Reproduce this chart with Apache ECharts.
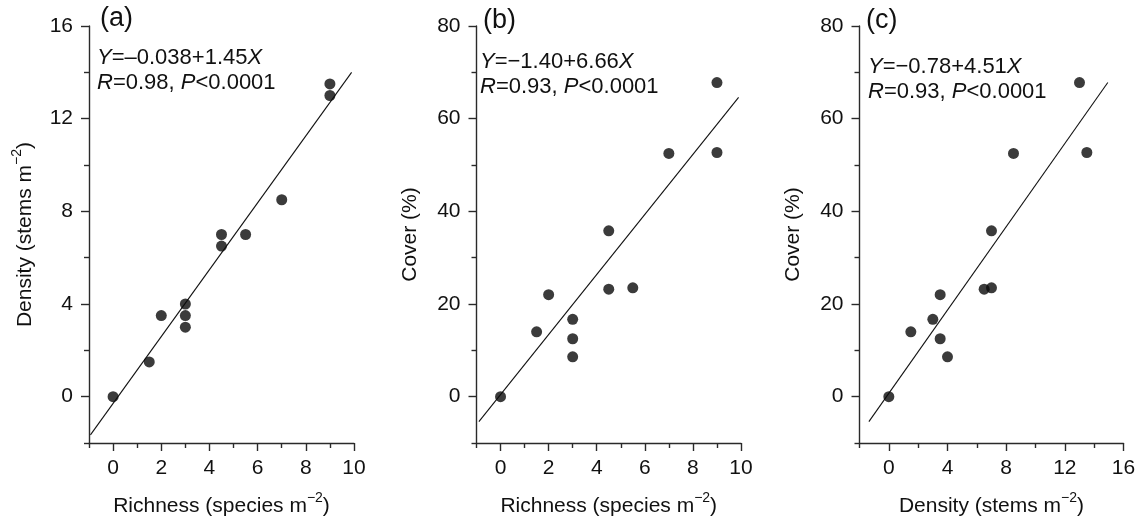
<!DOCTYPE html>
<html><head><meta charset="utf-8">
<script src="https://cdn.jsdelivr.net/npm/echarts@6/dist/echarts.min.js"></script>
<style>html,body{margin:0;padding:0;background:#fff}#c{width:1140px;height:517px}</style>
</head><body><div id="c"></div>
<script>
// ---- data ----
const richness = [0, 1.5, 2, 3, 3, 3, 4.5, 4.5, 5.5, 7, 9, 9];
const densityA = [0, 1.5, 3.5, 4, 3.5, 3, 7, 6.5, 7, 8.5, 13.5, 13];
const coverB   = [0, 14, 22, 16.7, 12.5, 8.6, 35.8, 23.2, 23.5, 52.5, 67.8, 52.7];
const densityC = [0, 1.5, 3.5, 3, 3.5, 4, 7, 6.5, 7, 8.5, 13, 13.5];
const coverC   = [0, 14, 22, 16.7, 12.5, 8.6, 35.8, 23.2, 23.5, 52.5, 67.8, 52.7];
const fitA = [[-0.94, -1.65], [9.9, 14.0]];
const fitB = [[-0.9, -5.4], [9.9, 64.6]];
const fitC = [[-1.36, -5.4], [14.93, 67.8]];
const richTicks = [0, 2, 4, 6, 8, 10];
const richMinor = [-1, 1, 3, 5, 7, 9];
const densTicksY = [0, 4, 8, 12, 16];
const densMinorY = [-2, 2, 6, 10, 14];
const densTicksX = [0, 4, 8, 12, 16];
const densMinorX = [-2, 2, 6, 10, 14];
const coverTicks = [0, 20, 40, 60, 80];
const coverMinor = [-10, 10, 30, 50, 70];

const FONT = '"Liberation Sans", Arial, Helvetica, sans-serif';
const TXT = '#111';
const AX = '#2a2a2a';
const FS = 21;
const EFS = 22;

const nameRich = {
  b: {fontSize: FS, fontFamily: FONT, color: TXT, lineHeight: 26, verticalAlign: 'bottom'},
  s: {fontSize: 14, fontFamily: FONT, color: TXT, lineHeight: 26, verticalAlign: 'top'}
};

function xMain(gi, min, max, ticks, name, gap) {
  return {gridIndex: gi, type: 'value', min, max, position: 'bottom',
    axisLine: {show: true, onZero: false, lineStyle: {color: AX, width: 1.4}},
    axisTick: {show: true, length: 8, customValues: ticks, lineStyle: {color: AX, width: 1.4}},
    axisLabel: {customValues: ticks, margin: 15, fontSize: FS, color: TXT, fontFamily: FONT},
    splitLine: {show: false},
    name, nameLocation: 'middle', nameGap: gap, nameTextStyle: {rich: nameRich}};
}
function xMinor(gi, min, max, ticks) {
  return {gridIndex: gi, type: 'value', min, max, position: 'bottom',
    axisLine: {show: false, onZero: false},
    axisTick: {show: true, length: 5, customValues: ticks, lineStyle: {color: AX, width: 1.4}},
    axisLabel: {show: false}, splitLine: {show: false}};
}
function yMain(gi, min, max, ticks, name, gap) {
  return {gridIndex: gi, type: 'value', min, max, position: 'left',
    axisLine: {show: true, onZero: false, lineStyle: {color: AX, width: 1.4}},
    axisTick: {show: true, length: 8, customValues: ticks, lineStyle: {color: AX, width: 1.4}},
    axisLabel: {customValues: ticks, margin: 16, fontSize: FS, color: TXT, fontFamily: FONT},
    splitLine: {show: false},
    name, nameLocation: 'middle', nameGap: gap, nameTextStyle: {rich: nameRich}};
}
function yMinor(gi, min, max, ticks) {
  return {gridIndex: gi, type: 'value', min, max, position: 'left',
    axisLine: {show: false, onZero: false},
    axisTick: {show: true, length: 5, customValues: ticks, lineStyle: {color: AX, width: 1.4}},
    axisLabel: {show: false}, splitLine: {show: false}};
}
function zip(a, b) { return a.map((v, i) => [v, b[i]]); }

const grids = [
  {left: 89, top: 26, width: 265, height: 417, outerBoundsMode: 'none', containLabel: false},
  {left: 476.5, top: 26, width: 264.5, height: 417, outerBoundsMode: 'none', containLabel: false},
  {left: 859.5, top: 26, width: 264, height: 417, outerBoundsMode: 'none', containLabel: false}
];

const xAxes = [
  xMain(0, -1, 10, richTicks, '{b|Richness (species m}{s|−2}{b|)}', 48),
  xMinor(0, -1, 10, richMinor),
  xMain(1, -1, 10, richTicks, '{b|Richness (species m}{s|−2}{b|)}', 48),
  xMinor(1, -1, 10, richMinor),
  xMain(2, -2, 16, densTicksX, '{b|Density (stems m}{s|−2}{b|)}', 48),
  xMinor(2, -2, 16, densMinorX)
];
const yAxes = [
  yMain(0, -2, 16, densTicksY, '{b|Density (stems m}{s|−2}{b|)}', 53),
  yMinor(0, -2, 16, densMinorY),
  yMain(1, -10, 80, coverTicks, '{b|Cover (%)}', 56),
  yMinor(1, -10, 80, coverMinor),
  yMain(2, -10, 80, coverTicks, '{b|Cover (%)}', 56),
  yMinor(2, -10, 80, coverMinor)
];

function scatter(xi, yi, data) {
  return {type: 'scatter', xAxisIndex: xi, yAxisIndex: yi, data, symbol: 'circle', symbolSize: 11,
    itemStyle: {color: '#0a0a0a'}, silent: true, z: 3};
}
function fit(xi, yi, data) {
  return {type: 'line', xAxisIndex: xi, yAxisIndex: yi, data, showSymbol: false, symbol: 'none',
    lineStyle: {color: '#111', width: 1.1}, silent: true, z: 2};
}

function eq(x, y, txt) {
  return {type: 'text', x, y, silent: true,
    style: {text: txt, fontSize: EFS, fontFamily: FONT, fill: TXT, verticalAlign: 'middle', align: 'left',
      rich: {i: {fontStyle: 'italic', fontSize: EFS, fontFamily: FONT, fill: TXT, color: TXT},
             n: {fontSize: EFS, fontFamily: FONT, fill: TXT, color: TXT}}}};
}
function lab(x, y, txt) {
  return {type: 'text', x, y, silent: true,
    style: {text: txt, fontSize: 27, fontFamily: FONT, fill: TXT, verticalAlign: 'middle', align: 'left'}};
}

const option = {
  animation: false,
  backgroundColor: '#fff',
  grid: grids,
  xAxis: xAxes,
  yAxis: yAxes,
  series: [
    fit(0, 0, fitA), scatter(0, 0, zip(richness, densityA)),
    fit(2, 2, fitB), scatter(2, 2, zip(richness, coverB)),
    fit(4, 4, fitC), scatter(4, 4, zip(densityC, coverC))
  ],
  graphic: [
    lab(100, 19, '(a)'),
    eq(97, 58, '{i|Y}{n|=–0.038+1.45}{i|X}'),
    eq(97, 83, '{i|R}{n|=0.98, }{i|P}{n|<0.0001}'),
    lab(483, 21, '(b)'),
    eq(480, 62, '{i|Y}{n|=−1.40+6.66}{i|X}'),
    eq(480, 87, '{i|R}{n|=0.93, }{i|P}{n|<0.0001}'),
    lab(866, 21, '(c)'),
    eq(868, 67, '{i|Y}{n|=−0.78+4.51}{i|X}'),
    eq(868, 92, '{i|R}{n|=0.93, }{i|P}{n|<0.0001}')
  ]
};
const chart = echarts.init(document.getElementById('c'), null, {renderer: 'canvas'});
chart.setOption(option);
</script></body></html>
